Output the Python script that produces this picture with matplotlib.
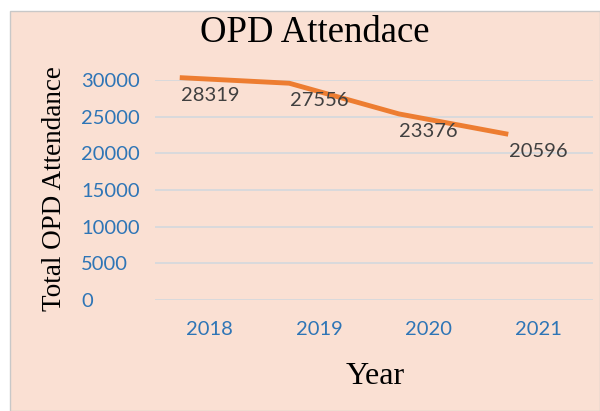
import matplotlib
matplotlib.use("Agg")
import matplotlib.pyplot as plt
import matplotlib.transforms as mtransforms
from matplotlib.patches import Rectangle

years = ["2018", "2019", "2020", "2021"]
attendance = [28319, 27556, 23376, 20596]
yticks = [0, 5000, 10000, 15000, 20000, 25000, 30000]

W, H = 600, 411
fig = plt.figure(figsize=(W / 100, H / 100), dpi=100)
fig.patch.set_facecolor("white")

bg = "#FAE0D3"
fig.patches.append(Rectangle((10 / W, 0), 1 - 10 / W, 1 - 11 / H, transform=fig.transFigure,
                             facecolor=bg, edgecolor="#C8C8C8", linewidth=1, zorder=-5))

ax = fig.add_axes([155 / W, (H - 300) / H, 438 / W, 220 / H])
ax.set_zorder(2)
ax.set_facecolor("none")
x = list(range(len(years)))
ax.set_xlim(-0.5, len(years) - 0.5)
ax.set_ylim(0, 30000)

for s in ax.spines.values():
    s.set_visible(False)
ax.set_yticks(yticks)
ax.set_yticklabels([str(v) for v in yticks])
ax.set_xticks(x)
ax.set_xticklabels(years)
ax.yaxis.grid(True, color="#D9D9DC", linewidth=1.4)
ax.set_axisbelow(True)
ax.tick_params(axis="both", length=0, labelcolor="#2E75B6", labelsize=14.5)
ax.tick_params(axis="y", pad=53)
ax.tick_params(axis="x", pad=15)
for t in ax.get_yticklabels():
    t.set_horizontalalignment("left")
    t.set_fontfamily("Lato")
for t in ax.get_xticklabels():
    t.set_fontfamily("Lato")

# line drawn shifted as in the reference picture
line_tr = mtransforms.offset_copy(ax.transData, fig=fig, x=-30, y=14.7, units="dots")
ax.plot(x, attendance, color="#ED7D31", linewidth=3.5, solid_capstyle="butt",
        transform=line_tr, clip_on=False, zorder=3)

for xi, v in zip(x, attendance):
    ax.annotate(str(v), (xi, v), xytext=(0, -3), textcoords="offset pixels",
                ha="center", va="center", fontsize=14.5, color="#404040",
                family="Lato", zorder=4)

fig.text(315 / W, 1 - 33 / H, "OPD Attendace", ha="center", va="center",
         fontsize=26.5, family="Liberation Serif", color="black")
fig.text(55 / W, 1 - 189 / H, "Total OPD Attendance", ha="center", va="center",
         rotation=90, fontsize=19.5, family="Liberation Serif", color="black")
fig.text(375 / W, 1 - 376 / H, "Year", ha="center", va="center",
         fontsize=23, family="Liberation Serif", color="black")

fig.savefig("out.png", dpi=100)
